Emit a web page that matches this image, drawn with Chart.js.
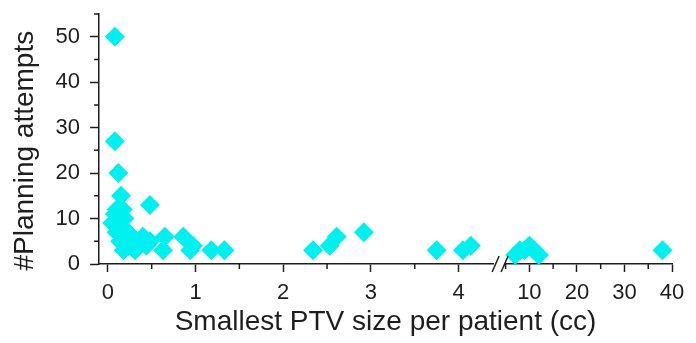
<!DOCTYPE html>
<html>
<head>
<meta charset="utf-8">
<script src="https://cdn.jsdelivr.net/npm/chart.js@4/dist/chart.umd.min.js"></script>
<style>
  html, body { margin: 0; padding: 0; background: #ffffff; }
  #wrap { width: 696px; height: 343px; }
</style>
</head>
<body>
<div id="wrap"><canvas id="c" width="696" height="343"></canvas></div>
<script>
// ---- data ----
const smallPtv = [0.08, 0.08, 0.12, 0.15, 0.48, 0.17, 0.10, 0.08, 0.19, 0.05, 0.13, 0.23, 0.10, 0.20, 0.14, 0.29, 0.40, 0.48, 0.35, 0.24, 0.44, 0.18, 0.31, 0.65, 0.63, 0.86, 0.97, 0.94, 1.18, 1.33, 2.34, 2.53, 2.61, 2.92, 3.75, 4.05, 4.14];
const smallAttempts = [50, 27, 20, 15, 13, 12, 12, 11, 10, 9, 8, 7, 7, 6, 5, 5, 6, 5, 4, 4, 4, 3, 3, 6, 3, 6, 4, 3, 3, 3, 3, 4, 6, 7, 3, 3, 4];
const largePtv = [7, 8, 9, 10, 11, 12, 38];
const largeAttempts = [2, 3, 3, 4, 3, 2, 3];

const yTicks = [0, 10, 20, 30, 40, 50];
const yMinorTicks = [5, 15, 25, 35, 45, 55];
const xTicksLow = [0, 1, 2, 3, 4];
const xMinorLow = [0.5, 1.5, 2.5, 3.5];
const xTicksHigh = [10, 20, 30, 40];
const xMinorHigh = [5, 15, 25, 35];

const xTitle = 'Smallest PTV size per patient (cc)';
const yTitle = '#Planning attempts   ';

// ---- styling ----
const FONT = "'Liberation Sans', Arial, sans-serif";
const INK = '#1e1e1e';
const POINT = 'rgb(0, 240, 240)';

const toPoints = (xs, ys) => xs.map((v, i) => ({ x: v, y: ys[i] }));
const fixTicks = (arr) => (scale) => { scale.ticks = arr.map(v => ({ value: v })); };

const minorTickPlugin = {
  id: 'minorTicks',
  afterDraw(chart) {
    const ctx = chart.ctx;
    ctx.save();
    ctx.strokeStyle = INK;
    ctx.lineWidth = 1.5;
    ctx.beginPath();
    const ys = chart.scales.y;
    yMinorTicks.forEach(v => {
      const p = ys.getPixelForValue(v);
      ctx.moveTo(ys.right, p); ctx.lineTo(ys.right - 5, p);
    });
    const xa = chart.scales.x, xb = chart.scales.x2;
    xMinorLow.forEach(v => {
      const p = xa.getPixelForValue(v);
      ctx.moveTo(p, xa.top); ctx.lineTo(p, xa.top + 5);
    });
    xMinorHigh.forEach(v => {
      const p = xb.getPixelForValue(v);
      ctx.moveTo(p, xb.top); ctx.lineTo(p, xb.top + 5);
    });
    // axis break marks "//"
    const yb = xa.top;
    [xa.right + 2, xb.left - 1].forEach(cx => {
      ctx.moveTo(cx - 3.5, yb + 8); ctx.lineTo(cx + 3.5, yb - 8);
    });
    ctx.stroke();
    ctx.restore();
  }
};

const tickFont = { family: FONT, size: 22 };
const titleFont = { family: FONT, size: 28 };

const xCommon = {
  type: 'linear',
  position: 'bottom',
  stack: 'xs',
  offset: false,
  grid: { display: true, drawOnChartArea: false, drawTicks: true, tickLength: 8, tickWidth: 1.5, tickColor: INK },
  border: { display: true, color: INK, width: 1.5 },
  ticks: { font: tickFont, color: INK, padding: 8, maxRotation: 0, autoSkip: false }
};

new Chart(document.getElementById('c'), {
  type: 'scatter',
  data: {
    datasets: [
      {
        data: toPoints(smallPtv, smallAttempts),
        xAxisID: 'x', yAxisID: 'y',
        pointStyle: 'rectRot', pointRadius: 10, pointHoverRadius: 10,
        backgroundColor: POINT, borderWidth: 0, clip: false
      },
      {
        data: toPoints(largePtv, largeAttempts),
        xAxisID: 'x2', yAxisID: 'y',
        pointStyle: 'rectRot', pointRadius: 10, pointHoverRadius: 10,
        backgroundColor: POINT, borderWidth: 0, clip: false
      }
    ]
  },
  options: {
    responsive: false,
    animation: false,
    events: [],
    layout: { padding: { top: 14, right: 24, left: 4, bottom: 4 } },
    plugins: {
      legend: { display: false },
      tooltip: { enabled: false },
      title: {
        display: true, position: 'bottom', fullSize: false,
        text: xTitle, color: INK, font: { family: FONT, size: 28, weight: 'normal' },
        padding: { top: -9, bottom: 0 }
      }
    },
    scales: {
      x: Object.assign({}, xCommon, {
        min: -0.1, max: 4.4, stackWeight: 396,
        afterBuildTicks: fixTicks(xTicksLow)
      }),
      gap: {
        type: 'linear', position: 'bottom', stack: 'xs', stackWeight: 12,
        min: 0, max: 1, display: true,
        grid: { display: false, drawTicks: false }, border: { display: false }, ticks: { display: false }
      },
      x2: Object.assign({}, xCommon, {
        min: 5, max: 40, stackWeight: 167,
        afterBuildTicks: fixTicks(xTicksHigh)
      }),
      y: {
        type: 'linear', position: 'left', min: 0, max: 55,
        afterBuildTicks: fixTicks(yTicks),
        afterFit: (s) => { s.paddingTop = 0; s.paddingBottom = 0; },
        grid: { display: true, drawOnChartArea: false, drawTicks: true, tickLength: 9, tickWidth: 1.5, tickColor: INK },
        border: { display: true, color: INK, width: 1.5 },
        ticks: { font: tickFont, color: INK, padding: 10 },
        title: { display: true, text: yTitle, color: INK, font: titleFont, padding: { top: 4, bottom: 4 } }
      }
    }
  },
  plugins: [minorTickPlugin]
});
</script>
</body>
</html>
